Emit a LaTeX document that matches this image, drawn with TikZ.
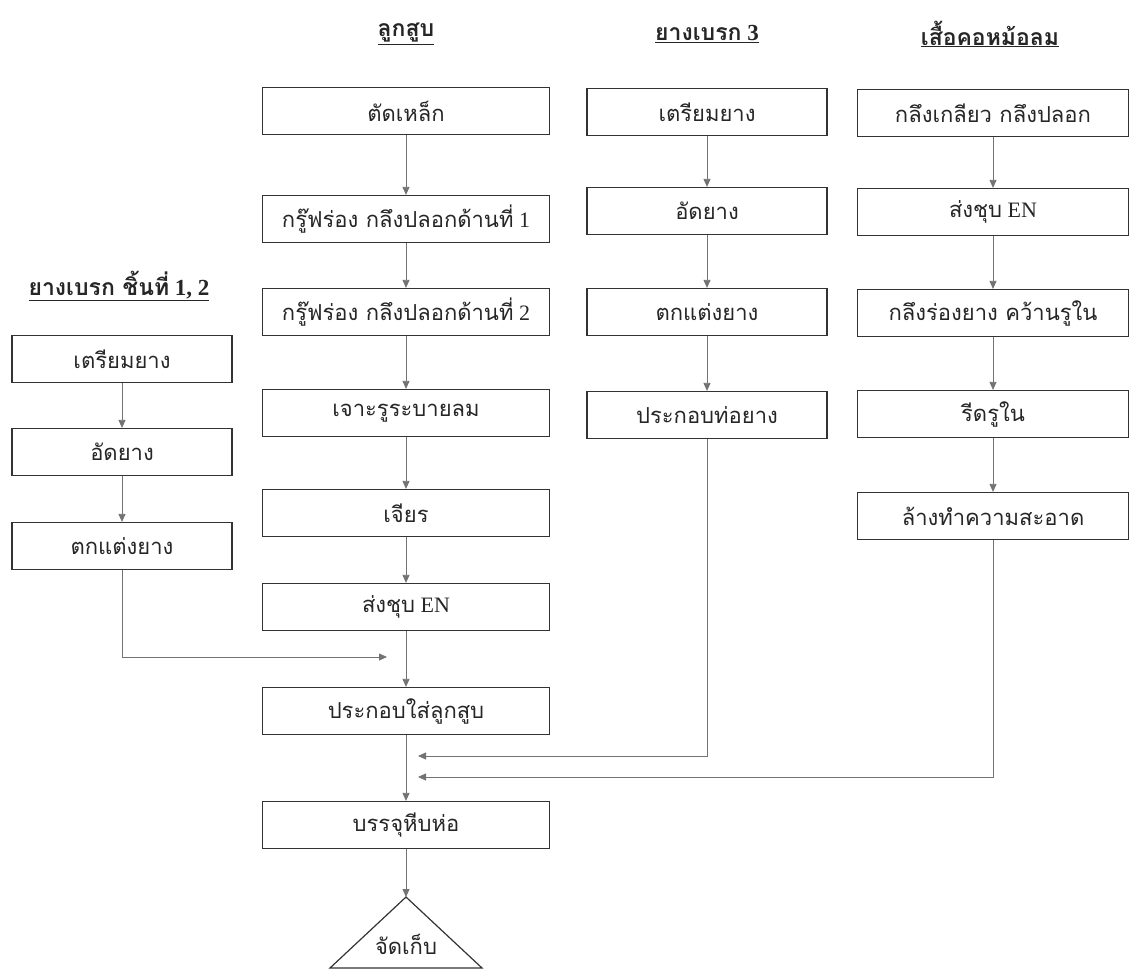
\documentclass[tikz,border=0pt]{standalone}
\usepackage{fontspec}
\setmainfont{Liberation Serif}
\newfontfamily\thaifont[Script=Thai]{Loma}
\newcommand{\thx}[1]{{\thaifont #1}}
\usetikzlibrary{arrows.meta}
\begin{document}
\begin{tikzpicture}[x=1pt,y=-1pt,
  box/.style={draw=black!80, line width=1.2pt, minimum height=47pt, inner sep=0pt,
    font=\fontsize{22}{26}\selectfont, text=black!85},
  bA/.style={box, minimum width=220pt},
  bB/.style={box, minimum width=287pt},
  bC/.style={box, minimum width=240pt},
  bD/.style={box, minimum width=271pt},
  hdr/.style={font=\fontsize{23}{27}\selectfont\bfseries, text=black!85, inner sep=1pt},
  arr/.style={draw=black!55, line width=0.8pt, -{Triangle[width=7pt,length=8pt]}}]
\useasboundingbox (0,0) rectangle (1131,976);

% headers
\node[hdr] (h1) at (119,286) {\underline{\thx{ยางเบรก ชิ้นที่} 1, 2}};
\node[hdr] (h2) at (406,34) {\underline{\thx{ลูกสูบ}}};
\node[hdr] (h3) at (707,34) {\underline{\thx{ยางเบรก} 3}};
\node[hdr] (h4) at (990,34) {\underline{\thx{เสื้อคอหม้อลม}}};

% column 1
\node[bA] (a1) at (122,359) {\thx{เตรียมยาง}};
\node[bA] (a2) at (122,452) {\thx{อัดยาง}};
\node[bA] (a3) at (122,546) {\thx{ตกแต่งยาง}};

% column 2
\node[bB] (b1) at (406,111) {\thx{ตัดเหล็ก}};
\node[bB] (b2) at (406,219) {\thx{กรู๊ฟร่อง กลึงปลอกด้านที่} 1};
\node[bB] (b3) at (406,312) {\thx{กรู๊ฟร่อง กลึงปลอกด้านที่} 2};
\node[bB] (b4) at (406,413) {\thx{เจาะรูระบายลม}};
\node[bB] (b5) at (406,513) {\thx{เจียร}};
\node[bB] (b6) at (406,607) {\thx{ส่งชุบ} EN};
\node[bB] (b7) at (406,711) {\thx{ประกอบใส่ลูกสูบ}};
\node[bB] (b8) at (406,825) {\thx{บรรจุหีบห่อ}};

% column 3
\node[bC] (c1) at (707,112) {\thx{เตรียมยาง}};
\node[bC] (c2) at (707,211) {\thx{อัดยาง}};
\node[bC] (c3) at (707,312) {\thx{ตกแต่งยาง}};
\node[bC] (c4) at (707,415) {\thx{ประกอบท่อยาง}};

% column 4
\node[bD] (d1) at (993,113) {\thx{กลึงเกลียว กลึงปลอก}};
\node[bD] (d2) at (993,212) {\thx{ส่งชุบ} EN};
\node[bD] (d3) at (993,313) {\thx{กลึงร่องยาง คว้านรูใน}};
\node[bD] (d4) at (993,414) {\thx{รีดรูใน}};
\node[bD] (d5) at (993,516) {\thx{ล้างทำความสะอาด}};

% storage triangle
\coordinate (apex) at (406,897);
\coordinate (tl) at (330,968);
\coordinate (tr) at (482,968);
\draw[draw=black!80, line width=1.2pt, line join=miter] (apex) -- (tr) -- (tl) -- cycle;
\node[font=\fontsize{22}{26}\selectfont, text=black!85] (store) at (406,944) {\thx{จัดเก็บ}};

% join points
\coordinate (j1) at (387,657);
\coordinate (j2) at (418,756);
\coordinate (j3) at (418,777);

% arrows column 1
\draw[arr] (a1) -- (a2);
\draw[arr] (a2) -- (a3);
\draw[arr] (a3.south) |- (j1);

% arrows column 2
\draw[arr] (b1) -- (b2);
\draw[arr] (b2) -- (b3);
\draw[arr] (b3) -- (b4);
\draw[arr] (b4) -- (b5);
\draw[arr] (b5) -- (b6);
\draw[arr] (b6) -- (b7);
\draw[arr] (b7) -- (b8);
\draw[arr] (b8.south) -- (apex);

% arrows column 3
\draw[arr] (c1) -- (c2);
\draw[arr] (c2) -- (c3);
\draw[arr] (c3) -- (c4);
\draw[arr] (c4.south) |- (j2);

% arrows column 4
\draw[arr] (d1) -- (d2);
\draw[arr] (d2) -- (d3);
\draw[arr] (d3) -- (d4);
\draw[arr] (d4) -- (d5);
\draw[arr] (d5.south) |- (j3);
\end{tikzpicture}
\end{document}
